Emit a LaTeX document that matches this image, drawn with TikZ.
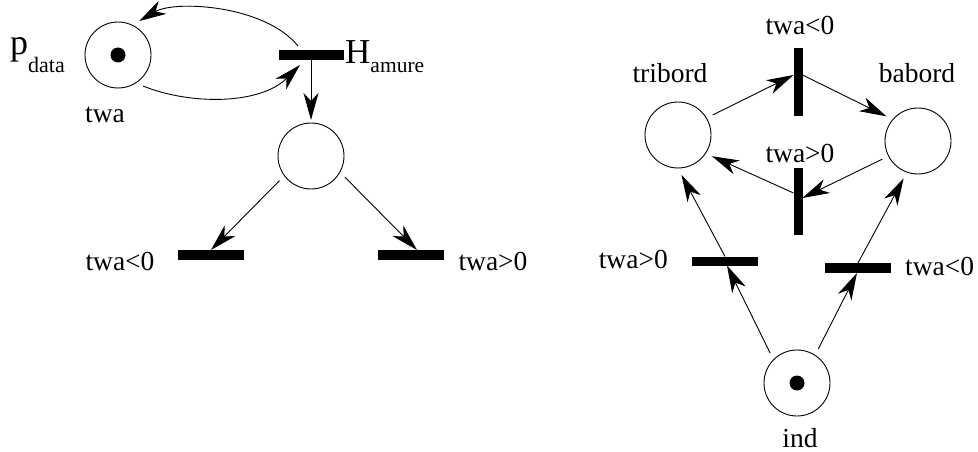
\documentclass[tikz,border=0pt]{standalone}
\usepackage{fontspec}
\setmainfont{Liberation Serif}
\usetikzlibrary{arrows.meta}
\begin{document}
\begin{tikzpicture}[x=1pt,y=-1pt]
\tikzset{
 place/.style={circle,draw,line width=0.9pt,minimum size=66pt,inner sep=0pt,outer sep=7pt},
 token/.style={circle,fill,minimum size=15pt,inner sep=0pt},
 hbar/.style={rectangle,fill,minimum width=66pt,minimum height=10pt,inner sep=0pt,outer sep=0pt},
 vbar/.style={rectangle,fill,minimum width=9pt,minimum height=67pt,inner sep=0pt,outer sep=0pt},
 lbl/.style={font=\fontsize{27.5}{30}\selectfont,inner sep=0pt},
 flow/.style={line width=0.9pt,-{Stealth[length=27pt,width=15pt,inset=8pt]}},
}
\useasboundingbox (0,0) rectangle (978,452);
% ---------- left net ----------
\node[place] (pdata) at (118,55) {};
\node[token] (pdatatok) at (pdata.center) {};
\node[lbl,anchor=base west] (pdatal) at (10,55) {\fontsize{36}{38}\selectfont p\raisebox{-18pt}{\fontsize{22}{24}\selectfont data}};
\node[lbl,anchor=base] (twal) at (105,122) {twa};
\node[hbar,minimum width=65pt] (hb) at (311,55) {};
\node[lbl,anchor=base west] (hl) at (345,64) {\fontsize{35}{37}\selectfont H\raisebox{-9pt}{\fontsize{21.5}{23}\selectfont amure}};
\node[place] (mid) at (311,156) {};
\node[hbar] (lb) at (211,255) {};
\node[hbar] (rb) at (411,255) {};
\node[lbl,anchor=base] (lbl1) at (120,270) {twa<0};
\node[lbl,anchor=base] (lbl2) at (493,270) {twa>0};
\draw[flow] ([shift={(-13pt,4pt)}]hb.north) .. controls (265,5) and (175,0) .. (pdata.58);
\draw[flow] (pdata.-51) .. controls (190,105) and (260,105) .. ([shift={(-11pt,-5pt)}]hb.south);
\draw[flow] (hb.south) -- ([yshift=-4pt]mid.north);
\draw[flow] (mid.-142) -- (lb.north);
\draw[flow] (mid.-32) -- ([xshift=6pt]rb.north);
% ---------- right net ----------
\node[place] (trib) at (678,135) {};
\node[place] (bab) at (918,141) {};
\node[vbar] (tb) at (798,82) {};
\node[vbar] (mb) at (798,201) {};
\node[lbl,anchor=base] (tribl) at (670,82) {tribord};
\node[lbl,anchor=base] (babl) at (917,82) {babord};
\node[lbl,anchor=base] (tbl) at (800,35) {twa<0};
\node[lbl,anchor=base] (mbl) at (800,162) {twa>0};
\node[hbar,minimum height=9pt] (blb) at (725,261) {};
\node[hbar] (brb) at (858,268) {};
\node[lbl,anchor=base east] (blbl) at (668,268) {twa>0};
\node[lbl,anchor=base west] (brbl) at (905,275) {twa<0};
\node[place] (ind) at (797,383) {};
\node[token] (indtok) at (ind.center) {};
\node[lbl,anchor=base] (indl) at (800,447) {ind};
\draw[flow] (trib.30) -- ([yshift=7pt]tb.west);
\draw[flow] ([yshift=7pt]tb.east) -- (bab.142);
\draw[flow] (bab.-153) -- ([yshift=3pt]mb.east);
\draw[flow] ([yshift=8pt]mb.west) -- (trib.-32);
\draw[flow] (ind.132) -- ([xshift=2pt]blb.south);
\draw[flow] (blb.north) -- (trib.-85);
\draw[flow] (ind.58) -- ([xshift=-1pt]brb.south);
\draw[flow] (brb.north) -- (bab.-111);
\end{tikzpicture}
\end{document}
